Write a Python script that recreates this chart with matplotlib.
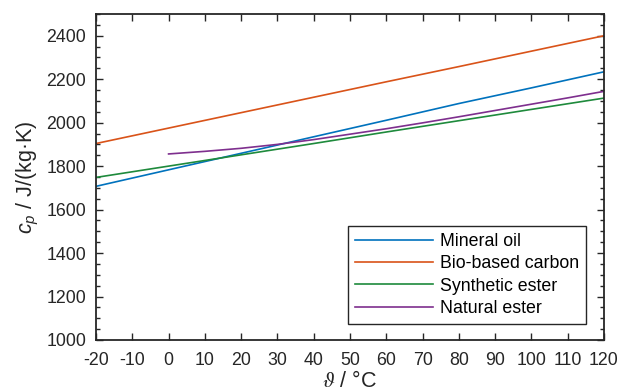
import matplotlib
matplotlib.use('Agg')
import matplotlib.pyplot as plt
from matplotlib.ticker import MultipleLocator

plt.rcParams['font.family'] = ['Liberation Sans', 'DejaVu Sans']
plt.rcParams['axes.unicode_minus'] = False
plt.rcParams['mathtext.fontset'] = 'custom'
plt.rcParams['mathtext.it'] = 'Liberation Sans:italic'
plt.rcParams['mathtext.rm'] = 'Liberation Sans'

# temperature grid (degC)
temp_full = [-20, 0, 20, 40, 60, 80, 100, 120]
mineral_oil = [1707, 1783, 1859, 1935, 2011, 2088, 2160, 2234]
bio_carbon = [1904, 1975, 2046, 2117, 2188, 2258, 2329, 2400]
synthetic_ester = [1748, 1800, 1852, 1904, 1957, 2009, 2061, 2113]

temp_nat = [0, 10, 20, 30, 40, 50, 60, 70, 80, 90, 100, 110, 120]
natural_ester = [1856, 1868, 1882, 1900, 1922, 1947, 1972, 1999, 2027, 2056, 2085, 2114, 2144]

series = [
    ('Mineral oil', temp_full, mineral_oil, '#0072BD'),
    ('Bio-based carbon', temp_full, bio_carbon, '#D95319'),
    ('Synthetic ester', temp_full, synthetic_ester, '#1E8A3C'),
    ('Natural ester', temp_nat, natural_ester, '#7E2F8E'),
]

ink = '#262626'

fig = plt.figure(figsize=(6.21, 3.92), dpi=100)
ax = fig.add_axes([0.1546, 0.1327, 0.818, 0.8316])

for name, x, y, c in series:
    ax.plot(x, y, color=c, lw=1.2, label=name)

ax.set_xlim(-20, 120)
ax.set_ylim(1000, 2500)
ax.xaxis.set_major_locator(MultipleLocator(10))
ax.yaxis.set_major_locator(MultipleLocator(200))
ax.yaxis.set_minor_locator(MultipleLocator(50))
ax.tick_params(which='both', direction='in', top=True, right=True,
               labelsize=12.8, colors=ink, width=1.0)
ax.tick_params(which='major', length=5)
ax.tick_params(which='minor', length=3)
ax.tick_params(axis='x', pad=9)
ax.tick_params(axis='y', pad=7)
for s in ax.spines.values():
    s.set_color(ink)
    s.set_linewidth(1.3)

ax.set_xlabel(r'$\vartheta$ / °C', fontsize=15.5, color=ink, labelpad=1,
              math_fontfamily='stix')
ax.set_ylabel(r'$c_p$ / J/(kg·K)', fontsize=15.5, color=ink, labelpad=4)

leg = ax.legend(loc='lower right', bbox_to_anchor=(0.965, 0.049), borderaxespad=0,
                fontsize=12.8, handlelength=4.4, fancybox=False, framealpha=1,
                edgecolor=ink, borderpad=0.4, labelspacing=0.3, handletextpad=0.4)
leg.get_frame().set_linewidth(1.0)

fig.savefig('out.png', dpi=100)
